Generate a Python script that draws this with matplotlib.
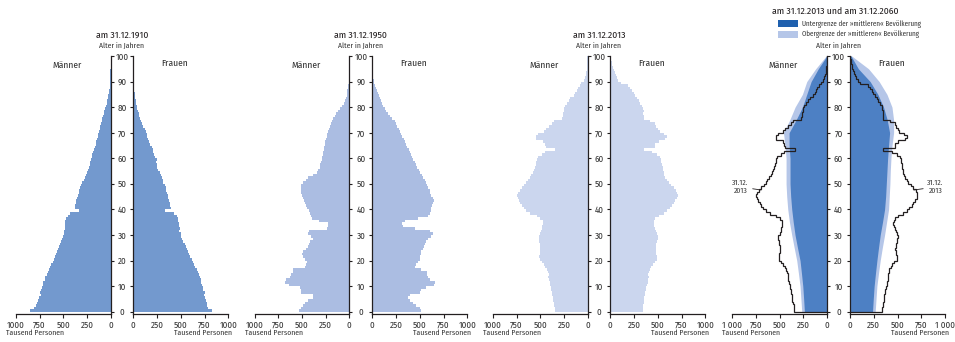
import numpy as np
import matplotlib.pyplot as plt
from matplotlib.patches import Rectangle

plt.rcParams['font.family'] = ['Fira Sans Condensed', 'DejaVu Sans']

# population in thousands, ages 0..99 (one value per year of age)
men_1910 = [851, 805, 790, 780, 762, 755, 738, 748, 734, 723,
            716, 709, 695, 688, 677, 663, 649, 642, 628, 613,
            603, 592, 582, 571, 560, 550, 539, 528, 514, 504,
            496, 489, 486, 486, 482, 479, 472, 454, 433, 337,
            372, 379, 369, 362, 355, 344, 337, 330, 323, 309,
            298, 284, 266, 257, 248, 239, 230, 222, 213, 206,
            199, 194, 188, 177, 166, 156, 149, 142, 135, 128,
            117, 112, 106, 99, 92, 85, 78, 71, 64, 55,
            46, 40, 35, 30, 25, 19, 14, 10, 7, 5,
            3, 2, 1, 1, 0.5, 0, 0, 0, 0, 0]
women_1910 = [825, 790, 779, 772, 765, 758, 744, 755, 730, 735,
              720, 712, 709, 702, 691, 684, 667, 653, 642, 625,
              614, 597, 586, 572, 562, 551, 541, 527, 516, 505,
              498, 484, 488, 484, 477, 474, 467, 456, 428, 337,
              393, 390, 385, 378, 370, 362, 355, 348, 340, 333,
              309, 316, 298, 290, 281, 263, 253, 246, 239, 246,
              228, 221, 211, 204, 193, 176, 168, 158, 147, 140,
              130, 119, 105, 95, 84, 74, 63, 56, 49, 42,
              35, 28, 25, 21, 18, 14, 11, 7, 5, 3,
              2, 1, 1, 0.5, 0, 0, 0, 0, 0, 0]

men_1950 = [534, 512, 488, 463, 435, 380, 380, 510, 515, 520,
            640, 680, 670, 629, 611, 600, 594, 470, 452, 449,
            463, 488, 498, 488, 452, 435, 424, 417, 382, 399,
            435, 430, 240, 222, 225, 320, 390, 405, 418, 425,
            442, 452, 463, 475, 488, 497, 505, 510, 512, 505,
            488, 452, 435, 382, 346, 329, 311, 304, 300, 293,
            286, 281, 276, 270, 265, 258, 251, 244, 237, 230,
            223, 214, 205, 196, 187, 170, 152, 135, 117, 94,
            71, 58, 46, 37, 28, 23, 18, 14, 11, 7,
            4, 2, 1, 0.5, 0, 0, 0, 0, 0, 0]
women_1950 = [517, 500, 465, 429, 394, 377, 394, 500, 510, 570,
              651, 665, 605, 588, 581, 577, 517, 447, 465, 482,
              500, 507, 510, 517, 535, 546, 553, 563, 588, 616,
              641, 605, 447, 324, 313, 341, 482, 588, 605, 616,
              623, 630, 641, 648, 641, 623, 612, 605, 588, 581,
              565, 550, 535, 518, 500, 488, 475, 460, 447, 433,
              419, 406, 394, 382, 370, 355, 341, 329, 317, 303,
              289, 276, 264, 250, 236, 208, 183, 165, 148, 130,
              113, 100, 88, 77, 67, 56, 46, 37, 28, 21,
              14, 10, 7, 4, 2, 1, 0, 0, 0, 0]

men_2013 = [348, 348, 352, 359, 363, 366, 373, 377, 384, 387,
            394, 401, 408, 415, 408, 419, 429, 447, 465, 482,
            507, 510, 507, 500, 500, 500, 507, 510, 517, 514,
            500, 489, 482, 479, 472, 472, 500, 535, 605, 648,
            676, 693, 711, 725, 739, 746, 736, 718, 693, 669,
            648, 630, 612, 595, 581, 570, 556, 549, 542, 535,
            528, 482, 450, 340, 440, 450, 468, 540, 542, 520,
            465, 440, 412, 380, 359, 270, 260, 258, 253, 248,
            236, 215, 200, 180, 148, 130, 113, 100, 84, 65,
            42, 30, 18, 12, 7, 4, 2, 1, 0.5, 0.3]
women_2013 = [340, 340, 344, 351, 355, 358, 362, 369, 372, 379,
              386, 393, 400, 404, 397, 407, 414, 428, 446, 467,
              491, 491, 484, 481, 477, 481, 484, 491, 498, 502,
              491, 481, 470, 463, 456, 463, 474, 509, 562, 597,
              625, 649, 667, 684, 702, 709, 702, 691, 667, 642,
              614, 595, 580, 569, 562, 555, 551, 544, 537, 534,
              527, 491, 440, 350, 474, 474, 510, 580, 597, 565,
              520, 500, 485, 470, 420, 351, 351, 348, 351, 340,
              333, 315, 298, 285, 263, 245, 228, 210, 190, 110,
              85, 68, 55, 45, 35, 26, 19, 13, 8, 5]

# projection 2060, ages 0, 5, ..., 100
ages_2060 = list(range(0, 101, 5))
men_2060_low = [237, 245, 254, 268, 283, 310, 336, 355, 371, 382, 389,
                389, 389, 399, 399, 325, 258, 212, 166, 90, 0]
men_2060_high = [265, 274, 283, 300, 318, 345, 371, 395, 413, 424, 431,
                 431, 431, 442, 459, 392, 336, 258, 212, 118, 7]
women_2060_low = [237, 245, 254, 268, 283, 300, 318, 342, 364, 375, 382,
                  389, 396, 406, 417, 392, 353, 293, 212, 88, 11]
women_2060_high = [265, 274, 283, 300, 318, 340, 364, 385, 406, 413, 420,
                   424, 431, 442, 459, 459, 442, 389, 307, 195, 18]

titles = ['am 31.12.1910', 'am 31.12.1950', 'am 31.12.2013',
          'am 31.12.2013 und am 31.12.2060']
bar_colors = ['#7399ce', '#abbde2', '#cbd6ee']
band_dark = '#4d80c4'
band_light = '#b5c6e8'
legend_dark = '#1f60ae'
ink = '#231f20'
grey = '#333333'

W, H = 955, 342
fig = plt.figure(figsize=(W / 100, H / 100), dpi=100)
edges = np.arange(0, 101)

left_x = [16, 254.7, 493, 732.3]
right_x = [133.3, 372.3, 610.3, 850]
top_px, bot_px = 56, 314.3


def fx(px):
    return px / W


def fy(py):
    return 1 - py / H


def make_half(x0, width, side, thin=False):
    ax = fig.add_axes([fx(x0), fy(bot_px), width / W, (bot_px - top_px) / H])
    ax.patch.set_alpha(0)
    ax.set_ylim(-1, 100)
    ax.spines['top'].set_visible(False)
    for s in ax.spines.values():
        s.set_color(ink)
        s.set_linewidth(0.9)
    ticks = [0, 250, 500, 750, 1000]
    big = '1 000' if thin else '1000'
    if side == 'left':
        ax.set_xlim(1000, 0)
        ax.spines['left'].set_visible(False)
        ax.yaxis.tick_right()
        ax.set_yticks(range(0, 101, 10), labels=[str(v) for v in range(0, 101, 10)], ha='center')
        ax.tick_params(axis='y', direction='out', length=2.5, width=0.8, pad=6,
                       labelsize=6.5, labelcolor=grey, color=ink)
    else:
        ax.set_xlim(0, 1000)
        ax.spines['right'].set_visible(False)
        ax.set_yticks(range(0, 101, 10))
        ax.tick_params(axis='y', direction='out', length=2.5, width=0.8, labelleft=False, color=ink)
    ax.set_xticks(ticks, labels=['0', '250', '500', '750', big])
    ax.tick_params(axis='x', direction='out', length=3, width=0.8, pad=1.5,
                   labelsize=6.5, labelcolor=grey, color=ink)
    return ax


men_all = [men_1910, men_1950, men_2013]
women_all = [women_1910, women_1950, women_2013]

for i in range(4):
    axl = make_half(left_x[i], 94.5, 'left', thin=(i == 3))
    axr = make_half(right_x[i], 95, 'right', thin=(i == 3))
    if i < 3:
        axl.stairs(men_all[i], edges, orientation='horizontal', baseline=0,
                   fill=True, color=bar_colors[i], lw=0)
        axr.stairs(women_all[i], edges, orientation='horizontal', baseline=0,
                   fill=True, color=bar_colors[i], lw=0)
    else:
        axl.fill_betweenx(ages_2060, 0, men_2060_high, color=band_light, lw=0)
        axl.fill_betweenx(ages_2060, 0, men_2060_low, color=band_dark, lw=0)
        axr.fill_betweenx(ages_2060, 0, women_2060_high, color=band_light, lw=0)
        axr.fill_betweenx(ages_2060, 0, women_2060_low, color=band_dark, lw=0)
        axl.stairs(men_2013, edges, orientation='horizontal', baseline=0,
                   fill=False, color=ink, lw=0.9)
        axr.stairs(women_2013, edges, orientation='horizontal', baseline=0,
                   fill=False, color=ink, lw=0.9)
        axl.annotate('31.12.\n2013', xy=(695, 47.6), xytext=(915, 48.8),
                     ha='center', va='center', fontsize=5.5, color=grey,
                     linespacing=1.1,
                     arrowprops=dict(arrowstyle='-', color=ink, lw=0.6,
                                     shrinkA=1, shrinkB=0))
        axr.annotate('31.12.\n2013', xy=(672, 47.6), xytext=(900, 48.8),
                     ha='center', va='center', fontsize=5.5, color=grey,
                     linespacing=1.1,
                     arrowprops=dict(arrowstyle='-', color=ink, lw=0.6,
                                     shrinkA=1, shrinkB=0))
    axl.text(0.54, 0.965, 'Männer', transform=axl.transAxes, ha='center',
             va='center', fontsize=6.8, color=grey)
    axr.text(0.44, 0.97, 'Frauen', transform=axr.transAxes, ha='center',
             va='center', fontsize=6.8, color=grey)

    cx = (left_x[i] + 94.5 + right_x[i]) / 2
    fig.text(fx(cx), fy(46), 'Alter in Jahren', ha='center', va='center',
             fontsize=5.5, color=grey)
    if i < 3:
        fig.text(fx(cx), fy(35), titles[i], ha='center', va='center',
                 fontsize=7, color=ink)
    else:
        fig.text(fx(cx - 3), fy(11), titles[i], ha='center', va='center',
                 fontsize=7, color=ink)
    fig.text(fx(left_x[i] - 10), fy(333), 'Tausend Personen', ha='left',
             va='center', fontsize=5.5, color=grey)
    fig.text(fx(right_x[i] + 99), fy(333), 'Tausend Personen', ha='right',
             va='center', fontsize=5.5, color=grey)

# legend of the projection panel
for yy, col, lab in [(20, legend_dark, 'Untergrenze der »mittleren« Bevölkerung'),
                     (31, band_light, 'Obergrenze der »mittleren« Bevölkerung')]:
    fig.add_artist(Rectangle((fx(777.7), fy(yy + 7)), 20.3 / W, 7 / H,
                             transform=fig.transFigure, color=col, lw=0))
    fig.text(fx(801.5), fy(yy + 3.5), lab, ha='left', va='center',
             fontsize=5, color=grey)

fig.savefig('out.png', dpi=100)
